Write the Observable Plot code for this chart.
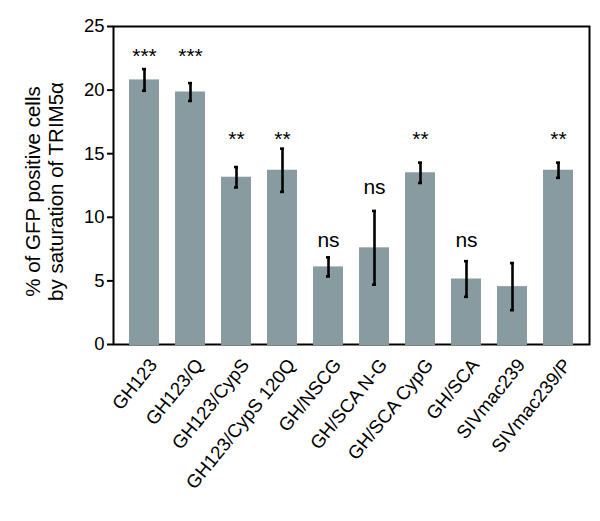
<!DOCTYPE html>
<html><head><meta charset="utf-8">
<script src="https://cdn.jsdelivr.net/npm/d3@7"></script>
<script src="https://cdn.jsdelivr.net/npm/@observablehq/plot@0.6"></script>
<style>body{margin:0;background:#fff}svg{display:block}</style>
</head><body><div id="chart"></div>
<script>
const categories = ["GH123","GH123/Q","GH123/CypS","GH123/CypS 120Q","GH/NSCG","GH/SCA N-G","GH/SCA CypG","GH/SCA","SIVmac239","SIVmac239/P"];
const means = [20.8, 19.85, 13.15, 13.7, 6.1, 7.6, 13.5, 5.15, 4.55, 13.7];
const errs  = [0.85, 0.7, 0.8, 1.7, 0.75, 2.9, 0.8, 1.4, 1.85, 0.6];
const annot = ["***","***","**","**","ns","ns","**","ns","","**"];
const annotY = [22.1,22.1,15.64,15.64,7.7,11.8,15.64,7.7,0,15.64];
const yTicks = [0,5,10,15,20,25];

const data = categories.map((c,i)=>({cat:c, v:means[i], lo:means[i]-errs[i], hi:means[i]+errs[i], a:annot[i], ay:annotY[i]}));
const font = "Liberation Sans, Arial, sans-serif";
const chart = Plot.plot({
  width: 600, height: 521,
  marginLeft: 113, marginRight: 11, marginTop: 26, marginBottom: 177,
  style: {fontFamily: font, fontSize: "18px", color: "black", background: "white"},
  x: {domain: categories, padding: 0.34, label: null},
  y: {domain: [0,25], label: null},
  marks: [
    Plot.axisY(yTicks, {fontSize: 18.5, tickSize: 6, tickPadding: 3, label: null, strokeWidth: 2}),
    Plot.axisX({fontSize: 18.7, tickSize: 0, tickRotate: -51, tickPadding: 17, dx: 9, label: null}),
    Plot.frame({stroke: "black", strokeWidth: 2}),
    Plot.ruleY([0], {stroke: "black", strokeWidth: 2.5, x1: 0, x2: 0}),
    Plot.barY(data, {x: "cat", y: "v", fill: "#879ba1", insetBottom: -1}),
    Plot.ruleX(data, {x: "cat", y1: "lo", y2: "hi", stroke: "black", strokeWidth: 2.6}),
    Plot.tickY(data, {x: "cat", y: "lo", stroke: "black", strokeWidth: 2.6, insetLeft: 17, insetRight: 17}),
    Plot.tickY(data, {x: "cat", y: "hi", stroke: "black", strokeWidth: 2.6, insetLeft: 17, insetRight: 17}),
    Plot.text(data.filter(d=>d.a), {x: "cat", y: "ay", text: "a", lineAnchor: "bottom", fontSize: 21, fill: "black"}),
    Plot.text(["% of GFP positive cells\nby saturation of TRIM5α"], {frameAnchor: "left", textAnchor: "middle", lineAnchor: "middle", rotate: -90, dx: -69, dy: 6, fontSize: 20.5, lineHeight: 1.12, fill: "black"})
  ]
});
document.getElementById("chart").appendChild(chart);
</script></body></html>
